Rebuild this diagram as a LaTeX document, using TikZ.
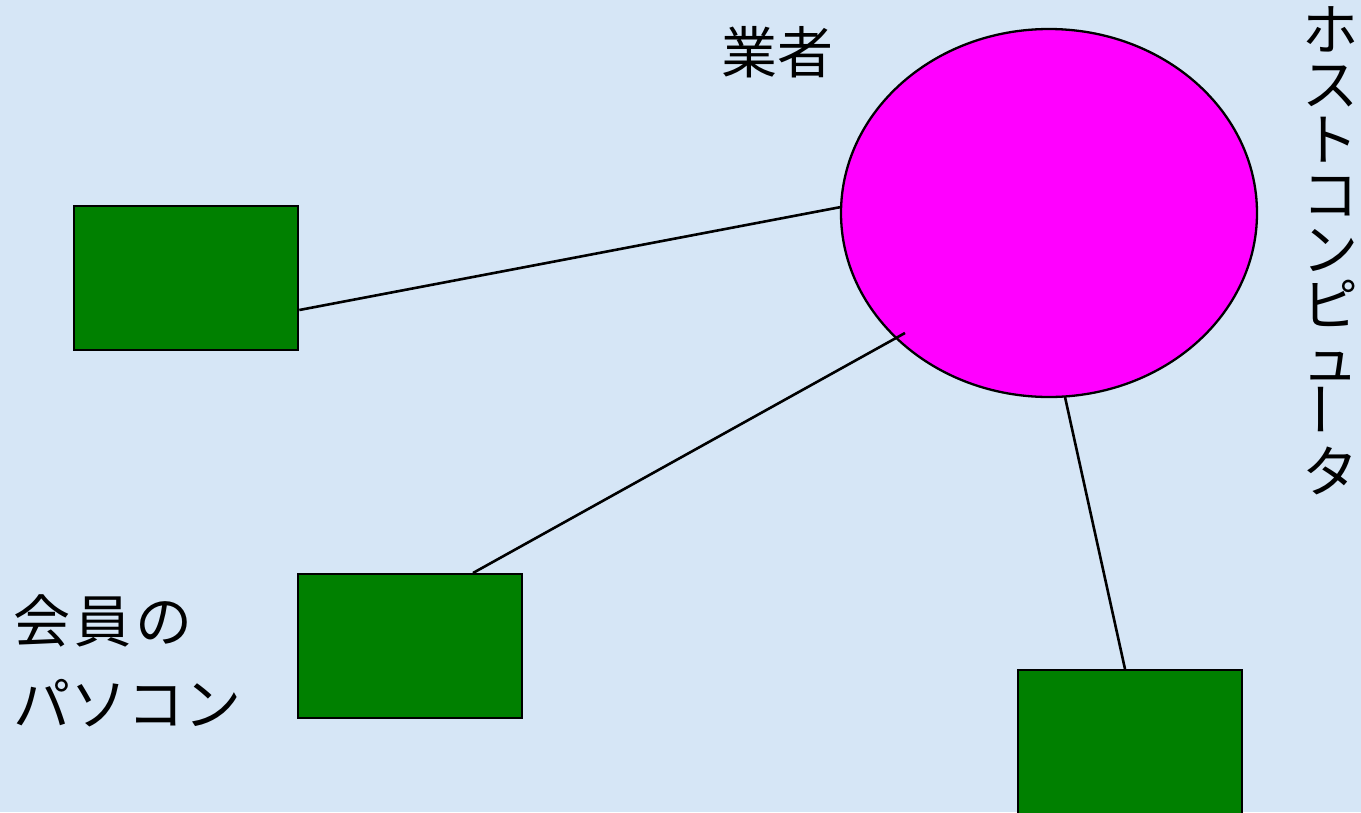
\documentclass[tikz,border=0pt]{standalone}
\usepackage{fontspec}
\setmainfont{Noto Sans CJK JP}
\usetikzlibrary{shapes.geometric}
\definecolor{bgblue}{RGB}{214,230,246}
\definecolor{boxgreen}{RGB}{0,128,0}
\definecolor{hostpink}{RGB}{255,0,255}
\begin{document}
\begin{tikzpicture}[x=1pt,y=-1pt,
  pc/.style={draw=black, line width=2.3pt, fill=boxgreen, minimum width=224pt, minimum height=144pt, inner sep=0pt, anchor=north west},
  link/.style={draw=black, line width=2.6pt},
  lbl/.style={font=\fontsize{56}{62}\selectfont, inner sep=0pt, align=left}]
\fill[bgblue] (0,0) rectangle (1361,812);
\useasboundingbox (0,0) rectangle (1361,812);
\begin{scope}
\clip (0,0) rectangle (1361,812);
\node[ellipse, draw=black, line width=2.3pt, fill=hostpink, minimum width=416pt, minimum height=368pt, inner sep=0pt] (host) at (1049,213) {};
\node[pc] (pc1) at (73,205) {};
\node[pc] (pc2) at (297,573) {};
\node[pc] (pc3) at (1017,669) {};
\coordinate (h2) at (905,333);
\coordinate (p2) at (473,573);
\coordinate (p3) at (1125,669);
\coordinate (h3) at (1065,397);
\coordinate (p1) at (297,310);
\coordinate (h1) at (841,207);
\draw[link] (pc1.east |- p1) -- (h1);
\draw[link] (p2) -- (h2);
\draw[link] (h3) -- (p3);
\end{scope}
\node[lbl, anchor=center] (gyosha) at (777,52) {業者};
\node[lbl, anchor=north west, font=\fontsize{57}{83}\selectfont] (member) at (13,594) {会\kern4pt 員\kern4pt の\\パソコン};
\node[lbl, anchor=north, align=center, font=\fontsize{56}{55}\selectfont] (hostlbl) at (1330,6) {ホ\\ス\\ト\\コ\\ン\\ピ\\ュ\\\rotatebox{90}{ー}\\タ};
\end{tikzpicture}
\end{document}
